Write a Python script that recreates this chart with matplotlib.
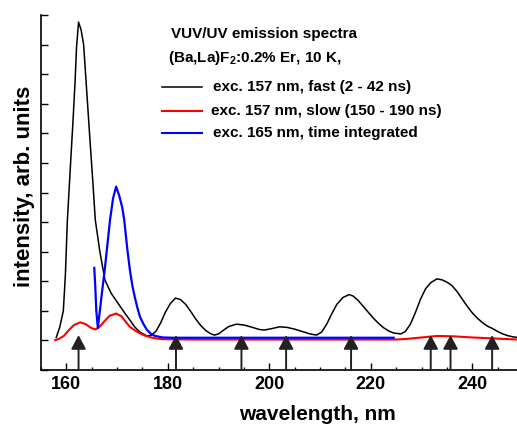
import matplotlib
matplotlib.use('Agg')
import matplotlib.pyplot as plt
from matplotlib.ticker import MultipleLocator

plt.rcParams['font.family'] = ['Liberation Sans', 'DejaVu Sans']
plt.rcParams['font.weight'] = 'bold'
plt.rcParams['mathtext.fontset'] = 'custom'
plt.rcParams['mathtext.rm'] = 'Liberation Sans:bold'
plt.rcParams['mathtext.bf'] = 'Liberation Sans:bold'

# fast component, exc. 157 nm
fast_wl = [158.0, 158.7, 159.4, 159.8, 160.2, 160.8, 161.3, 161.7, 162.0, 162.4,
           162.9, 163.4, 164.0, 164.6, 165.2, 165.7, 166.6, 167.6, 168.8, 170.0,
           171.2, 172.5, 173.5, 174.5, 175.9, 176.8, 177.7, 178.6, 179.5, 180.5,
           181.5, 182.5, 183.5, 184.5, 185.5, 186.5, 187.5, 188.5, 189.2, 190.0,
           191.0, 192.0, 193.5, 195.0, 196.5, 198.0, 199.0, 200.5, 202.0, 203.5,
           205.0, 206.5, 208.0, 209.3, 210.3, 211.3, 212.3, 213.3, 214.5, 215.7,
           216.5, 217.5, 218.5, 219.5, 220.5, 221.5, 222.5, 223.5, 224.5, 225.9,
           226.8, 227.8, 228.8, 229.8, 230.8, 231.8, 233.0, 234.0, 235.0, 236.0,
           237.0, 238.0, 239.0, 240.0, 241.0, 242.0, 243.0, 244.0, 245.0, 246.0,
           247.0, 248.0, 249.0]
fast_int = [1.10, 1.45, 2.00, 3.20, 5.07, 6.90, 8.40, 9.70, 10.90, 11.76,
            11.50, 11.00, 9.45, 7.90, 6.40, 5.07, 4.00, 3.04, 2.60, 2.30,
            2.00, 1.69, 1.45, 1.28, 1.15, 1.18, 1.32, 1.60, 1.95, 2.25,
            2.43, 2.38, 2.22, 1.98, 1.72, 1.50, 1.33, 1.22, 1.18, 1.22,
            1.35, 1.47, 1.55, 1.52, 1.45, 1.37, 1.35, 1.40, 1.46, 1.44,
            1.38, 1.30, 1.22, 1.18, 1.28, 1.55, 1.90, 2.22, 2.45, 2.55,
            2.50, 2.35, 2.15, 1.95, 1.75, 1.58, 1.43, 1.32, 1.25, 1.22,
            1.30, 1.55, 1.95, 2.40, 2.75, 2.95, 3.08, 3.05, 2.97, 2.85,
            2.65, 2.40, 2.15, 1.93, 1.75, 1.60, 1.48, 1.40, 1.30, 1.22,
            1.16, 1.12, 1.10]

# slow component, exc. 157 nm
slow_wl = [157.8, 158.5, 159.5, 160.5, 161.5, 162.7, 163.8, 164.8, 165.7, 166.5,
           167.5, 168.5, 169.8, 170.8, 171.6, 172.5, 173.5, 174.5, 175.5, 176.5,
           177.5, 179.0, 185.0, 195.0, 205.0, 215.0, 225.0, 227.0, 230.0, 233.0,
           236.0, 240.0, 245.0, 249.0]
slow_int = [1.01, 1.05, 1.15, 1.35, 1.52, 1.61, 1.55, 1.43, 1.37, 1.45,
            1.65, 1.83, 1.91, 1.82, 1.65, 1.46, 1.34, 1.24, 1.16, 1.11,
            1.07, 1.04, 1.03, 1.03, 1.03, 1.03, 1.03, 1.05, 1.10, 1.15,
            1.14, 1.10, 1.06, 1.03]

# time integrated, exc. 165 nm
integ_wl = [165.5, 165.7, 165.9, 166.2, 166.6, 167.0, 167.5, 168.0, 168.6, 169.2,
            169.8, 170.4, 171.0, 171.4, 172.0, 172.5, 173.0, 173.5, 174.0, 174.5,
            175.2, 175.9, 176.7, 177.5, 179.0, 181.0, 190.0, 200.0, 210.0, 220.0,
            224.5]
integ_int = [3.45, 2.80, 2.00, 1.42, 2.00, 2.60, 3.30, 4.10, 5.07, 5.80,
             6.20, 5.90, 5.50, 5.07, 4.10, 3.40, 2.85, 2.45, 2.10, 1.80,
             1.55, 1.35, 1.22, 1.15, 1.10, 1.09, 1.09, 1.09, 1.09, 1.09,
             1.09]

# Er3+ transition markers
arrow_wl = [162.4, 181.6, 194.5, 203.3, 216.1, 231.8, 235.7, 243.9]
arrow_top = 1.18

fig = plt.figure(figsize=(5.17, 4.28), dpi=100)
ax = fig.add_axes([41 / 517, 58 / 428, 476 / 517, 355 / 428])

ax.plot(fast_wl, fast_int, color='black', lw=1.1)
ax.plot(slow_wl, slow_int, color='red', lw=1.5)
ax.plot(integ_wl, integ_int, color='blue', lw=1.6)

for wl in arrow_wl:
    ax.annotate('', xy=(wl, arrow_top), xytext=(wl, 0),
                arrowprops=dict(arrowstyle='-|>,head_length=0.6,head_width=0.32',
                                mutation_scale=14, lw=1.4, color='#222222',
                                shrinkA=0, shrinkB=0))

ax.set_xlim(155, 248.8)
ax.set_ylim(0, 12)
ax.xaxis.set_major_locator(MultipleLocator(20))
ax.xaxis.set_minor_locator(MultipleLocator(5))
ax.yaxis.set_major_locator(MultipleLocator(1))
ax.set_yticklabels([])
ax.tick_params(axis='x', which='major', direction='in', length=5, width=1,
               labelsize=13, pad=4)
ax.tick_params(axis='x', which='minor', direction='in', length=2.5, width=1)
ax.tick_params(axis='y', which='major', direction='in', length=5, width=1)
for lab in ax.get_xticklabels():
    lab.set_fontweight('bold')
ax.spines['top'].set_visible(False)
ax.spines['right'].set_visible(False)
ax.spines['left'].set_linewidth(1.2)
ax.spines['bottom'].set_linewidth(1.2)

fig.text(317 / 517, 1 - 415 / 428, 'wavelength, nm', ha='center', va='center',
         fontsize=15, fontweight='bold')
fig.text(25 / 517, 1 - 186 / 428, 'intensity, arb. units', ha='center',
         va='center', rotation=90, fontsize=16, fontweight='bold')

fig.text(171 / 517, 1 - 34 / 428, 'VUV/UV emission spectra', ha='left',
         va='center', fontsize=11, fontweight='bold')
fig.text(168 / 517, 1 - 58 / 428, r'(Ba,La)F$_{2}$:0.2% Er, 10 K,', ha='left',
         va='center', fontsize=11, fontweight='bold')

legend_rows = [('black', 'exc. 157 nm, fast (2 - 42 ns)', 87, 213),
               ('red', 'exc. 157 nm, slow (150 - 190 ns)', 111, 211),
               ('blue', 'exc. 165 nm, time integrated', 133, 213)]
for color, label, y, tx in legend_rows:
    fig.add_artist(plt.Line2D([162 / 517, 202 / 517], [1 - y / 428, 1 - y / 428],
                              color=color, lw=1.5 if color != 'black' else 1.1))
    fig.text(tx / 517, 1 - y / 428, label, ha='left', va='center',
             fontsize=11, fontweight='bold')

fig.savefig('out.png', dpi=100)
